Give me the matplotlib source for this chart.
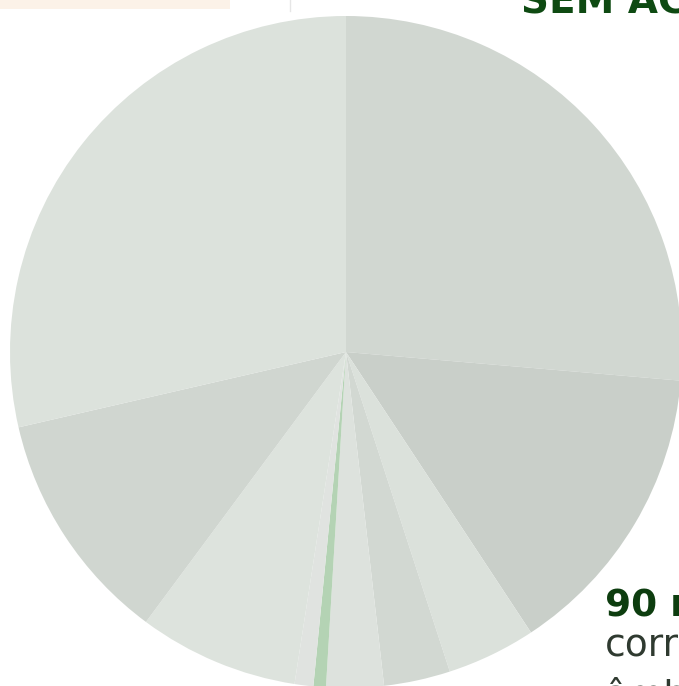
import matplotlib.pyplot as plt

# slice shares, clockwise from 12 o'clock
shares = [26.36, 14.36, 4.28, 3.19, 2.76, 0.6, 0.9, 7.7, 11.25, 28.6]
colors = ['#d1d7d1', '#c9cfc9', '#dbe1db', '#d2d8d2', '#dde2dd',
          '#b4d3b4', '#e0e3e0', '#dde3dd', '#d0d6d0', '#dce2dc']

title_txt = 'SEM ACESSO'
big_num = '90 mil'
body_lines = ['correspondem', 'âmbito']

W, H = 679, 686
fig = plt.figure(figsize=(W / 100, H / 100), dpi=100)
fig.patch.set_facecolor('white')

# pie centre (346, 352) px, radius 336 px
cx, cy, r = 346, 352, 336
ax = fig.add_axes([(cx - r) / W, (H - cy - r) / H, 2 * r / W, 2 * r / H])
ax.pie(shares, colors=colors, startangle=90, counterclock=False,
       wedgeprops=dict(linewidth=0))
ax.set_xlim(-1, 1)
ax.set_ylim(-1, 1)
ax.axis('off')

# faint header strip top-left
fig.patches.append(plt.Rectangle((0, 1 - 9 / H), 230 / W, 9 / H,
                                 transform=fig.transFigure,
                                 facecolor='#fcf2e8', edgecolor='none'))
fig.add_artist(plt.Line2D([290 / W, 290 / W], [1, 1 - 11 / H],
                          transform=fig.transFigure, color='#e6e6e6', lw=1))

def px(x, y):
    return x / W, 1 - y / H

fig.text(*px(521, 14), title_txt, fontsize=28, fontweight='bold',
         color='#0e4a12', va='baseline', ha='left', family='DejaVu Sans')
fig.text(*px(605, 615), big_num, fontsize=27, fontweight='bold',
         color='#0d3d0f', va='baseline', ha='left', family='DejaVu Sans')
fig.text(*px(605, 656), body_lines[0], fontsize=27,
         color='#2f3a30', va='baseline', ha='left', family='DejaVu Sans')
fig.text(*px(605, 706), body_lines[1], fontsize=27,
         color='#2f3a30', va='baseline', ha='left', family='DejaVu Sans')

fig.savefig('out.png', dpi=100, facecolor='white')
